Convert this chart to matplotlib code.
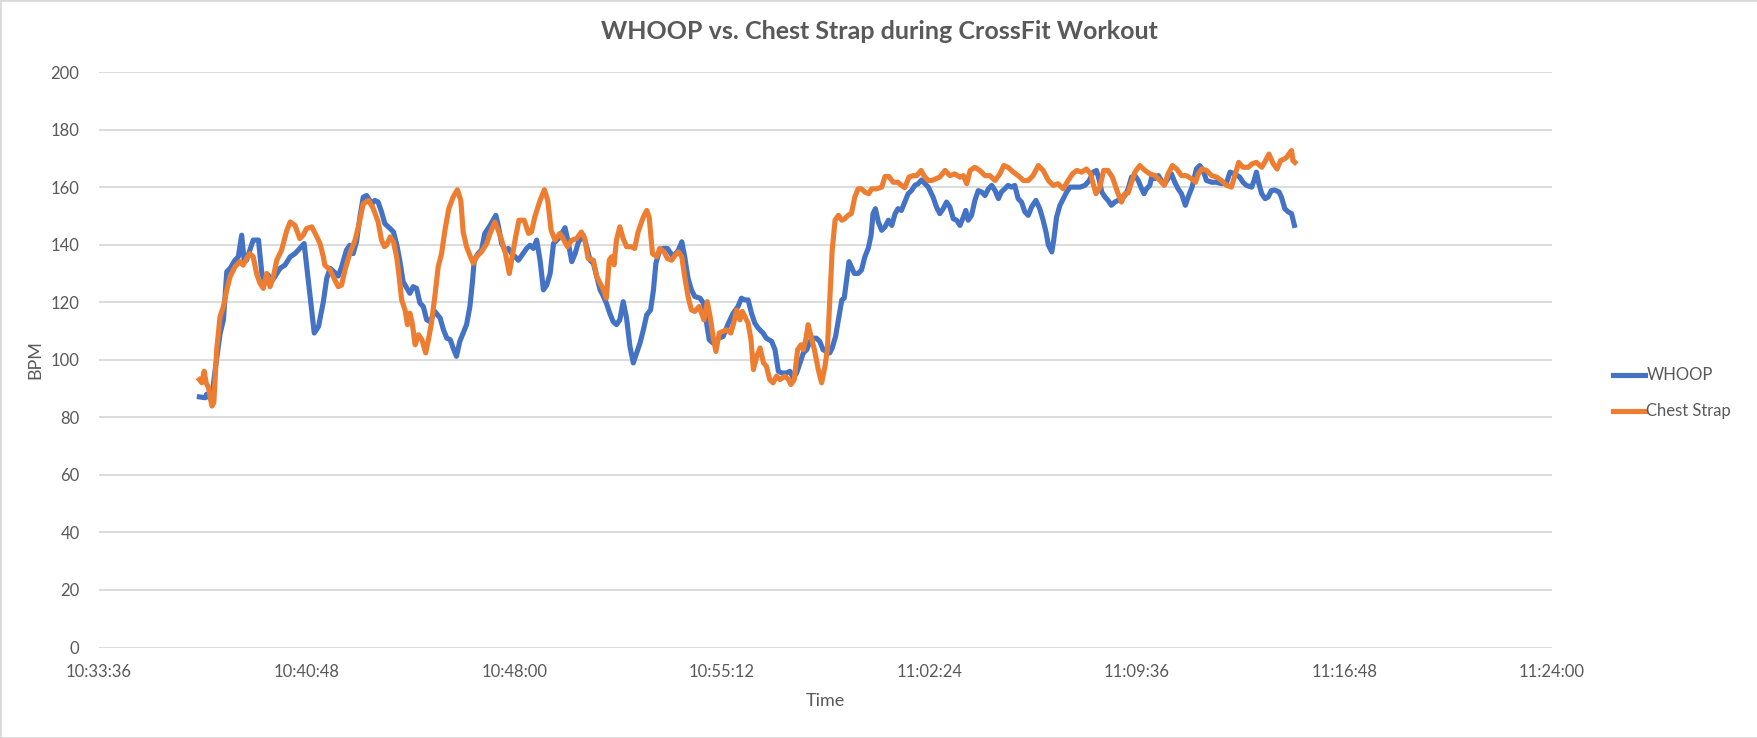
import matplotlib
matplotlib.use("Agg")
import matplotlib.pyplot as plt
from matplotlib.patches import Rectangle

# x values are seconds after 10:33:36 (left end of the time axis)
tick_labels = ["10:33:36", "10:40:48", "10:48:00", "10:55:12", "11:02:24", "11:09:36", "11:16:48", "11:24:00"]
tick_step = 432  # 7 min 12 s between labels

whoop_sec = [209, 221, 224, 234, 243, 252, 259, 266, 273, 283, 290, 297, 302, 307, 321, 332, 339, 346, 352, 359,
             366, 377, 387, 398, 408, 418, 427, 448, 457, 467, 474, 481, 489, 498, 505, 515, 522, 529, 536, 543,
             550, 557, 568, 574, 581,
             588, 595, 606, 613, 620, 626, 633, 647, 654, 661, 668, 675, 682, 689, 699, 710, 717, 724, 731, 737,
             744, 751, 758, 765, 772, 777, 781, 789, 796, 803, 814, 826, 831, 838, 845, 852, 859, 866, 873, 880,
             890, 897, 904, 911, 918, 925, 932, 939, 946, 956,
             963, 970, 977, 984, 991, 998, 1008, 1015, 1022, 1029, 1036, 1043, 1050, 1056, 1063, 1070, 1077, 1084,
             1091, 1098, 1105, 1112, 1119, 1126, 1133, 1140, 1148, 1154, 1159, 1166, 1174, 1183, 1188, 1195, 1206,
             1213, 1219, 1226, 1233, 1240, 1251, 1258, 1270, 1278, 1289, 1299, 1310, 1320, 1330, 1337,
             1344, 1351, 1358, 1365, 1372, 1382, 1389, 1400, 1407, 1414, 1421, 1431, 1438, 1445, 1452, 1459, 1466,
             1473, 1480, 1487, 1493, 1500, 1507, 1514, 1521, 1526, 1533, 1539, 1546, 1551, 1556, 1561, 1566, 1572,
             1580, 1587, 1594, 1601, 1607, 1611, 1616, 1622, 1629, 1636, 1643, 1650, 1657, 1663, 1670, 1677, 1684,
             1691, 1698, 1705, 1712, 1719, 1726,
             1736, 1743, 1750, 1757, 1764, 1771, 1778, 1785, 1792, 1799, 1804, 1809, 1816, 1823, 1830, 1837, 1844,
             1851, 1858, 1865, 1872, 1878, 1885, 1892, 1899, 1906, 1913, 1920, 1927, 1934, 1941, 1950, 1958, 1965,
             1971, 1976, 1983, 1987, 1993, 2000, 2007, 2014, 2021, 2031, 2042, 2052, 2061, 2069, 2076, 2082, 2087,
             2094, 2100, 2107,
             2114, 2121, 2128, 2135, 2142, 2149, 2156, 2163, 2170, 2175, 2180, 2187, 2191, 2198, 2205, 2211, 2218,
             2225, 2232, 2239, 2246, 2253, 2261, 2268, 2275, 2284, 2291, 2298, 2305, 2316, 2326, 2336, 2347, 2354,
             2364, 2374, 2381, 2388, 2399, 2404, 2409, 2414, 2420, 2427, 2433, 2440, 2447, 2456, 2461, 2468, 2475,
             2482, 2488]
whoop_bpm = [87.1, 86.8, 88, 86, 98, 109, 113.9, 130.6, 131.8, 134.6, 135.8, 143.3, 134.6, 134.6, 141.6, 141.6,
             130, 126.6, 129.5, 127.1, 128.9, 131.8, 132.9, 135.8, 136.9, 138.7, 140.4, 109.3, 111.6, 120.2, 128.3,
             131.8, 130.6, 129.1, 132.3, 138.1, 139.8, 136.9, 141, 149.6, 156.5, 157.1, 154.2, 155.4, 154.8,
             151.4, 147.3, 145.6, 144.4, 139.8, 134.6, 127.1, 123.1, 125.4, 124.8, 119.7, 118.5, 113.9, 113.3,
             116.8, 114.5, 110.4, 107.5, 107, 104.1, 101.2, 106.4, 109.3, 112.2, 118.5, 126.6, 134.6, 136.9, 138.1,
             143.9, 146.7, 150.2, 146.7, 140.4, 138.1, 138.7, 136.9, 135.8, 134.6, 136.3, 138.7, 139.8, 138.7,
             141.6, 134.6, 124.3, 126, 130, 140.4, 142.1,
             143.9, 145.9, 140.4, 134.1, 136.9, 141, 143.3, 139.3, 134.6, 133.5, 128.9, 124.3, 122, 119.7, 116.2,
             113.3, 112.2, 113.9, 120.2, 114.5, 104.7, 98.9, 102.4, 105.8, 110.4, 115.6, 117.3, 124.3, 133.5, 137.5,
             138.7, 138.7, 137.5, 135.8, 138.1, 141, 135.8, 128.3, 124.3, 122, 121.4, 119.7, 107, 105.8, 107.5,
             108.1, 112.7, 116.2, 118.5, 121.4,
             120.8, 120.8, 116.2, 112.7, 111, 109.3, 107.5, 106.4, 103.5, 96, 95.4, 95.4, 96, 93.7, 95.4, 98.9,
             102.4, 103.5, 106.4, 107.5, 107.5, 106.4, 103.5, 102.9, 102.4, 104.1, 108.1, 113.9, 120.8, 121.4,
             127.7, 134.1, 132.3, 130, 130, 131.2, 135.8, 138.7, 143.3, 150.8, 152.5, 147.9, 145, 146.2, 148.5,
             146.7, 150.8, 152.5, 151.9, 154.8, 157.7, 158.8, 160.6, 161.2, 162.5, 161.2, 160,
             156.5, 153.1, 150.8, 152.5, 154.8, 153.1, 149, 148.5, 146.7, 149.6, 151.9, 148.5, 150.2, 155.4, 158.8,
             158.3, 157.1, 159.4, 160.6, 158.8, 156, 158.3, 159.4, 160.6, 160, 160.6, 156, 154.8, 151.4, 150.2,
             153.1, 155.4, 152.5, 148.5, 144.4, 139.8, 137.5, 141.6, 149.6, 153.7, 156, 158.3, 160, 160, 160,
             160.6, 162.3, 165.2, 165.8, 162.3, 158.3, 156.5, 155.4, 153.7,
             154.8, 155.4, 156.5, 157, 159.4, 163.5, 164, 162.3, 159.4, 157.7, 159.4, 160.6, 163.5, 163, 164,
             162.3, 161.2, 163, 164.6, 161.7, 159.4, 157.7, 153.7, 157.1, 160, 166.3, 167.5, 165.8, 162.3, 161.7,
             161.7, 161.2, 161.7, 165.2, 164.6, 163.5, 161.7, 160.6, 160, 162.3, 165.2, 161.2, 157.7, 156, 156.5,
             158.8, 159, 158.3, 156.5, 152.5, 151.4, 150.8, 146.7]

chest_sec = [209, 214, 219, 223, 228, 231, 235, 239, 245, 252, 259, 266, 273, 283, 293, 300, 307, 314, 321, 328,
             335, 342, 349, 356, 363, 370, 380, 391, 398, 408, 418, 425, 432, 443, 450, 460, 467, 470, 481, 491,
             498, 505, 512, 522, 533, 540, 550, 561, 571,
             581, 588, 594, 599, 606, 613, 620, 624, 630, 637, 642, 647, 652, 658, 665, 672, 680, 685, 692, 699,
             706, 713, 720, 728, 737, 746, 753, 758, 765, 772, 779, 786, 796, 807, 814, 824, 831, 838, 846, 854,
             860, 866, 874, 885, 894, 900, 907, 918, 927, 934, 941, 949, 959,
             966, 975, 984, 994, 1004, 1011, 1018, 1029, 1036, 1043, 1050, 1056, 1062, 1067, 1072, 1077, 1084,
             1091, 1098, 1108, 1115, 1122, 1133, 1140, 1145, 1152, 1161, 1167, 1176, 1183, 1192, 1199, 1206, 1213,
             1219, 1226, 1233, 1240, 1249, 1254, 1259, 1266, 1273, 1278, 1284, 1291, 1299, 1306, 1315, 1321, 1327,
             1334, 1339,
             1351, 1357, 1362, 1369, 1376, 1383, 1389, 1396, 1403, 1410, 1417, 1428, 1435, 1440, 1447, 1454, 1461,
             1466, 1471, 1476, 1482, 1489, 1497, 1504, 1511, 1516, 1521, 1526, 1532, 1539, 1546, 1552, 1559, 1566,
             1573, 1580, 1587, 1594, 1602, 1608, 1618, 1629, 1636, 1644, 1653, 1663, 1670, 1677, 1686, 1695, 1702,
             1711, 1719, 1726, 1733,
             1750, 1761, 1771, 1781, 1792, 1799, 1806, 1813, 1823, 1833, 1844, 1854, 1865, 1875, 1883, 1892, 1903,
             1913, 1924, 1934, 1944, 1955, 1965, 1976, 1986, 1996, 2007, 2017, 2026, 2035, 2045, 2055, 2064, 2069,
             2075, 2083, 2091, 2100, 2109,
             2121, 2128, 2135, 2142, 2149, 2156, 2166, 2177, 2187, 2198, 2208, 2217, 2225, 2234, 2243, 2253, 2263,
             2274, 2282, 2288, 2295, 2305, 2316, 2326, 2336, 2347, 2357, 2364, 2372, 2381, 2392, 2400, 2409, 2420,
             2428, 2435, 2444, 2452, 2459, 2467, 2472, 2479, 2482, 2485, 2489]
chest_bpm = [93.1, 92, 96, 92, 90.3, 87.4, 83.9, 85.1, 103.5, 115, 118.5, 124.3, 128.9, 132.3, 134.1, 132.9, 135.2,
             136.9, 135.8, 130, 126.6, 124.8, 130, 125.4, 128.9, 134.6, 138.1, 145, 147.9, 146.7, 142.1, 143.3,
             145.6, 146.2, 143.9, 140.4, 135.8, 132.9, 131.2, 127.7, 125.4, 126, 131.2, 136.9, 141.6, 146.2, 154.2,
             155.4, 152.5,
             147.9, 141.6, 139.3, 139.9, 142.7, 141, 135.2, 130, 120.8, 117.3, 112.2, 116.2, 112.7, 105.2, 108.7,
             107, 102.4, 106.4, 112.7, 122, 132.3, 136.9, 145, 152.5, 156.5, 159.1, 155.4, 144.4, 139.3, 136.3,
             133.5, 135.8, 137.5, 140.4, 143.9, 147.9, 145, 141.6, 136.9, 130, 135.8, 141.6, 148.5, 148.5, 143.9,
             144.4, 149.6, 155.4, 159.1, 155.4, 145, 141.6, 143.9,
             142.1, 139.3, 141.6, 142.1, 144.4, 142.1, 135.2, 134.6, 128.9, 126.6, 124.3, 121.4, 134.6, 135.8, 133,
             141.6, 146.2, 142.1, 139.3, 139.3, 138.7, 144.4, 149.6, 151.9, 149.6, 136.9, 135.8, 138.7, 137.5,
             135.2, 134.6, 136.3, 137.5, 135.8, 128.9, 122, 117.3, 116.8, 118.5, 116.2, 113.9, 120.2, 113.9, 108.1,
             102.9, 109.3, 109.9, 110.4, 109.3, 112.7, 117.3, 113.9, 116.8,
             112.7, 107, 96.6, 101.2, 104.1, 98.9, 97.8, 93.1, 92, 94.3, 93.1, 94.3, 93.1, 91.4, 93.1, 103.5, 105.2,
             103.5, 107, 112.2, 108.1, 103.5, 96.6, 92, 97.8, 103.5, 120.8, 138.1, 148.5, 150.2, 148.5, 149, 150.2,
             150.8, 156.5, 159.4, 159.4, 158.3, 157.7, 159.4, 159.4, 160, 163.7, 163.7, 161.7, 161.7, 160.6, 159.8,
             163.5, 164, 164, 165.8, 163.5, 162.3, 162.3,
             163.5, 165.8, 164, 164.6, 163.5, 164, 161.2, 165.8, 166.9, 165.8, 164, 164, 162.3, 164.6, 167.5,
             166.9, 165.2, 164, 162.3, 162.3, 164, 167.5, 165.8, 162.3, 160.6, 161.2, 159.4, 162.3, 164.6, 165.8,
             165.2, 166.3, 164.6, 161.2, 157.7, 160, 165.8, 165.8, 163.5,
             157.7, 154.8, 157.7, 158, 161.7, 165.2, 167.5, 165.8, 164.6, 164, 162.3, 160.6, 164.6, 167.5, 166.3,
             164, 164, 162.9, 161.7, 164.6, 166.3, 165.8, 164, 163.5, 162.3, 160.6, 160, 164, 168.6, 166.9, 166.9,
             168.1, 168.6, 166.9, 169.2, 171.5, 168.1, 166.3, 169.2, 169.8, 170.4, 172.1, 172.7, 169.2, 168.6]

GREY = "#595959"
plt.rcParams["font.family"] = ["Lato", "DejaVu Sans"]


def draw_chart():
    fig = plt.figure(figsize=(17.58, 7.38), dpi=100)
    ax = fig.add_axes([0.0563, 0.1226, 0.8265, 0.7798])

    ax.plot(whoop_sec, whoop_bpm, color="#4472C4", lw=3.7, label="WHOOP", solid_joinstyle="round")
    ax.plot(chest_sec, chest_bpm, color="#ED7D31", lw=3.7, label="Chest Strap", solid_joinstyle="round")

    ax.set_xlim(0, tick_step * (len(tick_labels) - 1))
    ax.set_ylim(0, 200)
    ax.set_xticks([i * tick_step for i in range(len(tick_labels))])
    ax.set_xticklabels(tick_labels)
    ax.set_yticks(range(0, 201, 20))
    ax.grid(axis="y", color="#d9d9d9", lw=1.3)
    ax.set_axisbelow(True)
    for s in ax.spines.values():
        s.set_visible(False)
    ax.tick_params(axis="both", length=0, colors=GREY, labelsize=12)
    ax.tick_params(axis="y", pad=14)
    ax.tick_params(axis="x", pad=12)

    ax.set_xlabel("Time", color=GREY, fontsize=13, labelpad=9)
    ax.set_ylabel("BPM", color=GREY, fontsize=13, labelpad=5)

    fig.text(0.5, 0.957, "WHOOP vs. Chest Strap during CrossFit Workout",
             ha="center", va="center", fontsize=18, fontweight="bold", color=GREY)

    fig.legend(loc="center left", bbox_to_anchor=(1598 / 1758, 0.467), frameon=False,
               handlelength=1.9, handletextpad=0.1, labelspacing=1.2, fontsize=12, labelcolor=GREY)

    fig.patches.append(Rectangle((0, 0), 1, 1, transform=fig.transFigure, fill=False,
                                 edgecolor="#d9d9d9", lw=2))
    fig.savefig("out.png", dpi=100)


if __name__ == "__main__":
    draw_chart()
